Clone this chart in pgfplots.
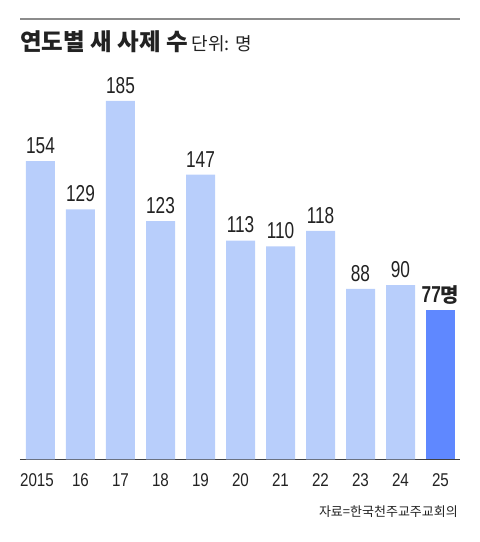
\documentclass[border=0pt]{standalone}
\usepackage{pgfplots}
\pgfplotsset{compat=1.18}
\usepackage{fontspec}
\setmainfont{Liberation Sans}
\newfontfamily\numfont[FakeStretch=0.75]{Liberation Sans}
\newfontfamily\tickfont[FakeStretch=0.82]{Liberation Sans}
\newfontfamily\krfont{Noto Sans CJK KR}

\definecolor{barlight}{HTML}{B8CEFB}
\definecolor{bardark}{HTML}{5F88FF}
\definecolor{txt}{HTML}{222222}

\begin{document}
\begin{tikzpicture}
  \path[use as bounding box] (0,0) rectangle (480pt,542pt);
  % top rule and title
  \draw[color=black!45, line width=2pt] (20pt,523pt) -- (460pt,523pt);
  \node[anchor=base west, inner sep=0pt, text=txt] at (20pt,491pt)
    {\krfont\fontsize{23.5}{23.5}\selectfont\bfseries 연도별 새 사제 수\mdseries\fontsize{18}{18}\selectfont\ 단위: 명};

  \begin{axis}[
      at={(20pt,82.5pt)}, anchor=south west,
      scale only axis, width=440pt, height=387.6pt,
      xmin=-0.5125, xmax=10.4875, ymin=0, ymax=200,
      axis x line*=bottom, axis y line=none,
      x axis line style={-, draw=black!75, line width=1pt},
      ytick=\empty,
      xtick={0,...,10},
      xticklabels={\kern-7pt 2015,16,17,18,19,20,21,22,23,24,25},
      major tick length=0pt,
      xticklabel style={font=\tickfont\fontsize{18.5}{18.5}\selectfont, text=txt,
        inner sep=0pt, anchor=north, yshift=-13.8pt},
      /pgf/number format/assume math mode=true,
      clip=false,
      every node near coord/.append style={anchor=base, inner sep=0pt,
        yshift=7.6pt, text=txt, font=\numfont\fontsize{23}{23}\selectfont},
    ]
    \addplot[ybar, bar width=29pt, bar shift=0pt, fill=barlight, draw=none,
      nodes near coords] coordinates {
      (0,154) (1,129) (2,185) (3,123) (4,147)
      (5,113) (6,110) (7,118) (8,88) (9,90)
    };
    \addplot[ybar, bar width=29pt, bar shift=0pt, fill=bardark, draw=none,
      nodes near coords={\bfseries 77{\krfont\bfseries\fontsize{20}{20}\selectfont 명}}]
      coordinates {(10,77)};
  \end{axis}

  \node[anchor=base east, inner sep=0pt, text=txt] at (458pt,25pt)
    {\krfont\fontsize{13}{13}\selectfont 자료=한국천주교주교회의};
\end{tikzpicture}
\end{document}
